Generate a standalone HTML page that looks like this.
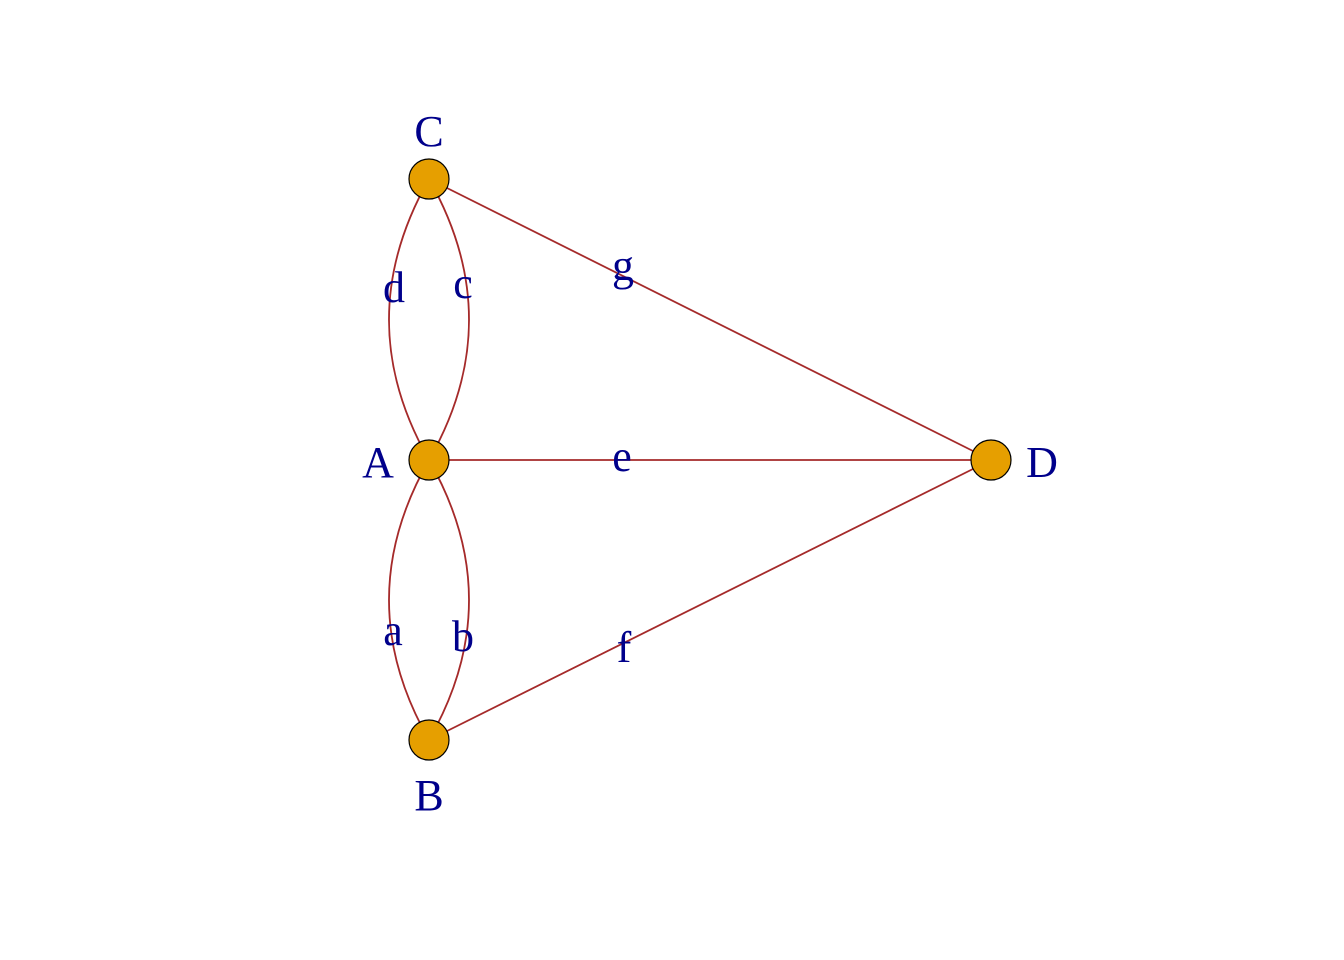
<!DOCTYPE html>
<html><head><style>body{margin:0;background:#fff}</style></head><body>
<svg width="1344" height="960" xmlns="http://www.w3.org/2000/svg" style="display:block">
<rect width="1344" height="960" fill="#fff"/>
<g stroke="#A52A2A" stroke-width="1.8" fill="none">
<path d="M429,179 Q349,320 429,460"/>
<path d="M429,179 Q509,320 429,460"/>
<path d="M429,460 Q349,600 429,740"/>
<path d="M429,460 Q509,600 429,740"/>
<line x1="429" y1="179" x2="991" y2="460"/>
<line x1="429" y1="460" x2="991" y2="460"/>
<line x1="429" y1="740" x2="991" y2="460"/>
</g>
<g fill="#E69F00" stroke="#000" stroke-width="1.2">
<circle cx="429" cy="179" r="20"/>
<circle cx="429" cy="460" r="20"/>
<circle cx="429" cy="740" r="20"/>
<circle cx="991" cy="460" r="20"/>
</g>
<g fill="#00008B" font-family="Liberation Serif, serif" font-size="44" text-anchor="middle">
<text x="429" y="146">C</text>
<text x="378" y="477">A</text>
<text x="429" y="810">B</text>
<text x="1042" y="477">D</text>
<text x="394" y="302">d</text>
<text x="463" y="298">c</text>
<text x="623" y="280">g</text>
<text x="622" y="471">e</text>
<text x="393" y="645">a</text>
<text x="463" y="651">b</text>
<text x="624" y="662">f</text>
</g>
</svg>
</body></html>
